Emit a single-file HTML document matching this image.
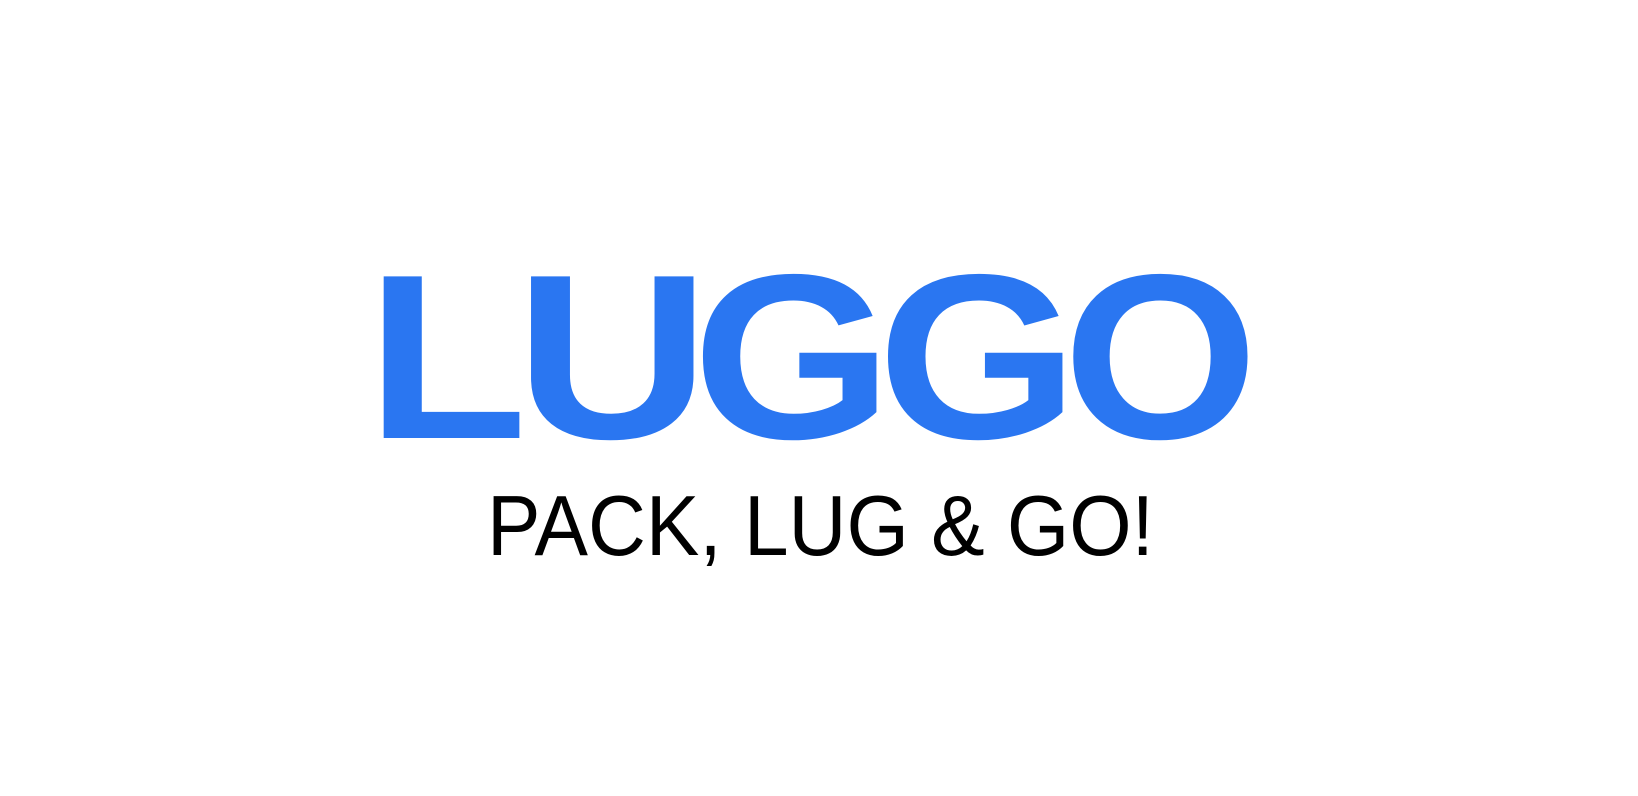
<!DOCTYPE html>
<html>
<head>
<meta charset="utf-8">
<style>
  html, body { margin: 0; padding: 0; background: #ffffff; }
  svg { display: block; }
</style>
</head>
<body>
<svg width="1638" height="796" viewBox="0 0 1638 796">
  <g fill="#2a76f1" font-family="'Liberation Sans', sans-serif" font-weight="bold" font-size="235">
    <text x="0" y="0" transform="translate(366,438) scale(1.125,1)">L</text>
    <text x="0" y="0" transform="translate(514.8,438) scale(1.15,1)">U</text>
    <text x="0" y="0" transform="translate(692.4,438) scale(1.094,1)">G</text>
    <text x="0" y="0" transform="translate(877.4,438) scale(1.10,1)">G</text>
    <text x="0" y="0" transform="translate(1063,438) scale(1.067,1)">O</text>
  </g>
  <text x="0" y="0" transform="translate(487,555) scale(0.938,1)" fill="#000000" font-family="'Liberation Sans', sans-serif" font-size="85.5">PACK, LUG &amp; GO!</text>
</svg>
</body>
</html>
